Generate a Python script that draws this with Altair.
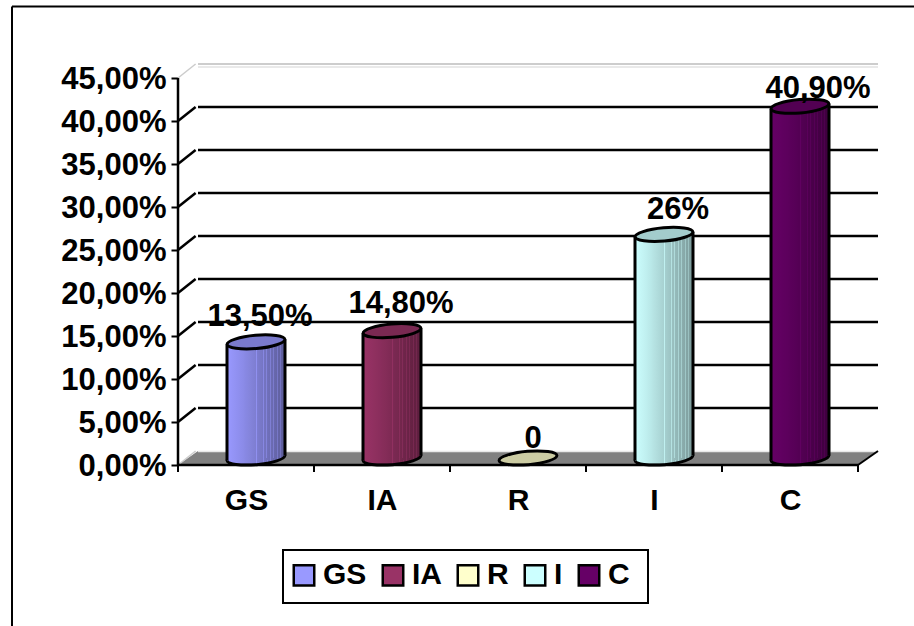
import altair as alt
import pandas as pd

# Chart values
categories = ["GS", "IA", "R", "I", "C"]
values = [13.5, 14.8, 0.0, 26.0, 40.9]
value_labels = ["13,50%", "14,80%", "0", "26%", "40,90%"]
y_ticks = [0, 5, 10, 15, 20, 25, 30, 35, 40, 45]
x_edges = [0, 1, 2, 3, 4, 5]
colors = ["#9999FF", "#993366", "#FFFFCC", "#CCFFFF", "#660066"]

# Pseudo-3D geometry, in data units (1 category = 136 px, 1 % = 8.6 px)
DX = 20 / 136
DY = 14 / 8.6
HALF_W = 29 / 136
TILT = 2.5 / 8.6
X_MAX = 5 + DX
Y_MAX = 45 + DY
FONT = "Liberation Sans"

# Text nudges per data label, in pixels
nudge = {
    "GS": (4, -16),
    "IA": (9, -18),
    "R": (5, -10),
    "I": (14, -15),
    "C": (18, -8),
}

ELLIPSE = (
    "M-1,0C-1,-0.12,-0.552,-0.23,0,-0.23C0.552,-0.23,1,-0.12,1,0"
    "C1,0.12,0.552,0.23,0,0.23C-0.552,0.23,-1,0.12,-1,0Z"
)

x_scale = alt.Scale(domain=[0, X_MAX], range=[0, 700], nice=False, zero=False)
y_scale = alt.Scale(domain=[0, Y_MAX], range=[401, 0], nice=False, zero=False)


def X(field):
    return alt.X(field, type="quantitative", scale=x_scale, title=None)


def Y(field):
    return alt.Y(field, type="quantitative", scale=y_scale, title=None)


def shade(hex_color, factor):
    rgb = [int(hex_color[i:i + 2], 16) for i in (1, 3, 5)]
    return "#" + "".join(f"{min(255, round(c * factor)):02x}" for c in rgb)


def cylinder_fill(base):
    # Smooth shading from left to right, with thin lighter facets on the shaded side
    stops = [(0.0, 1.0), (0.25, 0.92), (0.5, 0.82), (0.72, 0.72), (1.0, 0.6)]

    def factor(t):
        for (t0, f0), (t1, f1) in zip(stops, stops[1:]):
            if t <= t1:
                return f0 + (f1 - f0) * (t - t0) / (t1 - t0)
        return stops[-1][1]

    out = []
    for t in [i / 100 for i in range(0, 101, 4)]:
        out.append((t, shade(base, factor(t))))
    for t in [0.5, 0.62, 0.68, 0.74, 0.8, 0.86, 0.92]:
        light = shade(base, factor(t) + 0.12)
        out += [(t, shade(base, factor(t))), (t, light), (t + 0.015, light), (t + 0.015, shade(base, factor(t + 0.015)))]
    out.sort(key=lambda s: s[0])
    return alt.LinearGradient(
        gradient="linear",
        stops=[alt.GradientStop(offset=t, color=c) for t, c in out],
        x1=0, x2=1, y1=0, y2=0,
    )


layers = []

# Frame around the chart and the box around the legend
one = pd.DataFrame({"k": [0]})
layers.append(alt.Chart(one).mark_rule(color="black", strokeWidth=2).encode(
    x=alt.value(-166), x2=alt.value(736), y=alt.value(-57.5)))
layers.append(alt.Chart(one).mark_rule(color="black", strokeWidth=2).encode(
    x=alt.value(-166), y=alt.value(-57.5), y2=alt.value(562)))
layers.append(alt.Chart(one).mark_rect(fill="white", stroke="black", strokeWidth=2).encode(
    x=alt.value(105), x2=alt.value(470), y=alt.value(486), y2=alt.value(539)))

# Grey floor of the plot box
floor = pd.DataFrame({"y": [0, DY], "x": [0, DX], "x2": [5, X_MAX]})
layers.append(alt.Chart(floor).mark_area(orient="horizontal", color="#808080").encode(
    x=X("x"), x2="x2", y=Y("y")))
layers.append(alt.Chart(pd.DataFrame({"y": [DY - 0.05], "x": [DX], "x2": [X_MAX]}))
              .mark_rule(color="#e8e8e8", strokeWidth=1.5).encode(x=X("x"), x2="x2", y=Y("y")))

# Back-wall gridlines and the short connectors on the side wall
grid = pd.DataFrame({"v": y_ticks})
grid["back"] = grid.v + DY
grid["x0"] = DX
grid["x1"] = X_MAX
grid["front"] = 0.0
grid["end"] = DX * 0.88
black_grid = grid[(grid.v > 0) & (grid.v < 45)]
top_grid = grid[grid.v == 45]
edge_grid = grid[grid.v.isin([0, 45])]

layers.append(alt.Chart(black_grid).mark_rule(color="black", strokeWidth=2.5).encode(
    x=X("x0"), x2="x1", y=Y("back")))
layers.append(alt.Chart(top_grid).mark_rule(color="#bdbdbd", strokeWidth=1.5).encode(
    x=X("x0"), x2="x1", y=Y("back")))
layers.append(alt.Chart(top_grid.assign(back=top_grid.back - 0.35)).mark_rule(color="#e2e2e2", strokeWidth=1.5).encode(
    x=X("x0"), x2="x1", y=Y("back")))
layers.append(alt.Chart(black_grid).mark_rule(color="black", strokeWidth=2.5).encode(
    x=X("front"), x2="end", y=Y("v"), y2="back"))
layers.append(alt.Chart(edge_grid).mark_rule(color="#cccccc", strokeWidth=1.5).encode(
    x=X("front"), x2="end", y=Y("v"), y2="back"))

# Cylinders: base ellipse, shaded body, side outlines, top ellipse
for i, (cat, val, base) in enumerate(zip(categories, values, colors)):
    cx = i + 0.5 + DX / 2
    y0 = DY / 2
    top = y0 + val
    fill = cylinder_fill(base)
    point = pd.DataFrame({"x": [cx], "y0": [y0], "top": [top]})
    body = pd.DataFrame({
        "x": [cx - HALF_W, cx + HALF_W],
        "y": [y0 - TILT, y0 + TILT],
        "y2": [top - TILT, top + TILT],
    })
    left = pd.DataFrame({"x": [cx - HALF_W], "y": [y0 - TILT], "y2": [top - TILT]})
    right = pd.DataFrame({"x": [cx + HALF_W], "y": [y0 + TILT], "y2": [top + TILT]})

    if val > 0:
        layers.append(alt.Chart(point).mark_point(
            shape=ELLIPSE, size=3364, angle=355, filled=True, fill=fill, opacity=1,
            stroke="black", strokeWidth=3).encode(x=X("x"), y=Y("y0")))
        layers.append(alt.Chart(body).mark_area(fill=fill, line=False).encode(
            x=X("x"), y=Y("y"), y2="y2"))
        for side in (left, right):
            layers.append(alt.Chart(side).mark_rule(color="black", strokeWidth=3).encode(
                x=X("x"), y=Y("y"), y2="y2"))
    layers.append(alt.Chart(point).mark_point(
        shape=ELLIPSE, size=3364, angle=355, filled=True, fill=shade(base, 0.8), opacity=1,
        stroke="black", strokeWidth=3).encode(x=X("x"), y=Y("top")))

# Value labels sit above each cylinder
for i, (cat, val, text) in enumerate(zip(categories, values, value_labels)):
    dx, dy = nudge[cat]
    row = pd.DataFrame({"x": [i + 0.5 + DX / 2], "y": [DY / 2 + val], "t": [text]})
    layers.append(alt.Chart(row).mark_text(
        font=FONT, fontSize=31, fontWeight="bold", color="black",
        align="center", baseline="alphabetic", dx=dx, dy=dy,
    ).encode(x=X("x"), y=Y("y"), text="t:N"))

# Axis lines and the ticks along the category axis
layers.append(alt.Chart(pd.DataFrame({"x": [0], "y": [0], "y2": [45]}))
              .mark_rule(color="black", strokeWidth=2.5).encode(x=X("x"), y=Y("y"), y2="y2"))
layers.append(alt.Chart(pd.DataFrame({"x": [0], "x2": [5], "y": [0]}))
              .mark_rule(color="black", strokeWidth=2.5).encode(x=X("x"), x2="x2", y=Y("y")))
ticks = pd.DataFrame({"x": x_edges, "y": [0] * 6, "y2": [-7 / 8.6] * 6})
layers.append(alt.Chart(ticks).mark_rule(color="black", strokeWidth=2).encode(
    x=X("x"), y=Y("y"), y2="y2"))
right_edge = pd.DataFrame({"x": [5], "x2": [X_MAX], "y": [0], "y2": [DY]})
layers.append(alt.Chart(right_edge).mark_rule(color="black", strokeWidth=2).encode(
    x=X("x"), x2="x2", y=Y("y"), y2="y2"))

# Real axes: percentages on the left, category names underneath
axis_data = pd.DataFrame({"cat": categories, "x": [i + 0.5 for i in range(5)], "y": [0.0] * 5})
axis_layer = alt.Chart(axis_data).mark_point(opacity=0, filled=True).encode(
    x=alt.X("x:Q", scale=x_scale, title=None, axis=alt.Axis(
        values=[i + 0.5 for i in range(5)],
        labelExpr="['GS','IA','R','I','C'][floor(datum.value)]",
        domain=False, ticks=False, grid=False, labelFlush=False,
        labelFont=FONT, labelFontSize=30, labelFontWeight="bold", labelColor="black",
        labelPadding=20, labelOverlap=False)),
    y=alt.Y("y:Q", scale=y_scale, title=None, axis=alt.Axis(
        values=y_ticks,
        labelExpr="replace(format(datum.value, '.2f'), '.', ',') + '%'",
        domain=False, grid=False, tickSize=7, tickWidth=2, tickColor="black",
        labelFont=FONT, labelFontSize=31, labelFontWeight="bold", labelColor="black",
        labelPadding=5, labelOffset=1, labelOverlap=False, labelFlush=False)),
    color=alt.Color("cat:N", scale=alt.Scale(domain=categories, range=colors), legend=alt.Legend(
        title=None, orient="none", legendX=102, legendY=487, direction="horizontal", columns=5,
        symbolType="square", symbolSize=420, symbolStrokeColor="black", symbolStrokeWidth=2.5,
        symbolOpacity=1, labelFont=FONT, labelFontSize=30, labelFontWeight="bold",
        labelColor="black", labelOffset=4, columnPadding=10, padding=9)),
)
layers.insert(0, axis_layer)

chart = (
    alt.layer(*layers)
    .properties(
        width=700,
        height=401,
        padding={"left": 178, "top": 64, "right": 36, "bottom": 161},
        autosize=alt.AutoSizeParams(type="none"),
        background="white",
    )
    .configure_view(stroke=None)
)

chart.save("out.html", embed_options={"renderer": "svg", "actions": False})
